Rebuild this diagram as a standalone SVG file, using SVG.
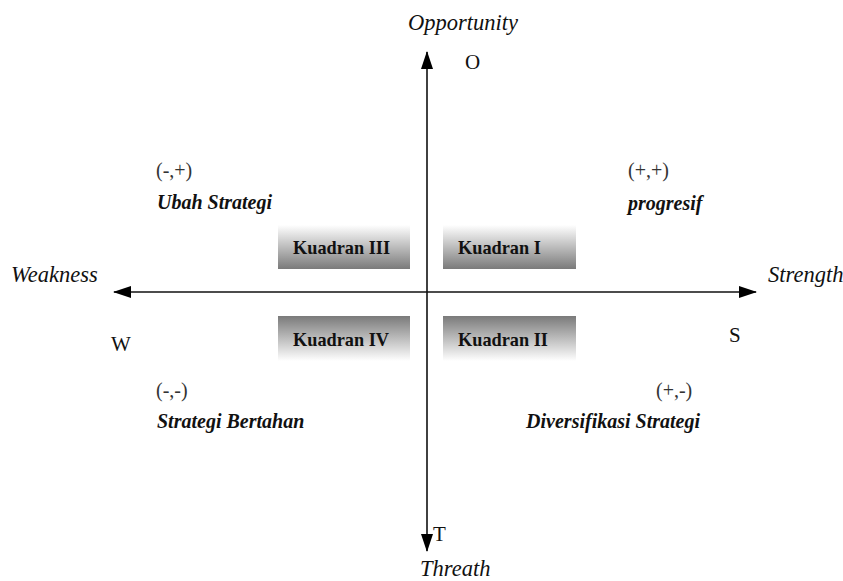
<svg xmlns="http://www.w3.org/2000/svg" width="843" height="581" viewBox="0 0 843 581">
<defs>
<linearGradient id="gDown" x1="0" y1="0" x2="0" y2="1">
<stop offset="0" stop-color="#ffffff"/>
<stop offset="1" stop-color="#7a7a7a"/>
</linearGradient>
<linearGradient id="gUp" x1="0" y1="0" x2="0" y2="1">
<stop offset="0" stop-color="#7a7a7a"/>
<stop offset="1" stop-color="#ffffff"/>
</linearGradient>
<marker id="ah" viewBox="0 0 18 12" refX="17" refY="6" markerWidth="18" markerHeight="12" markerUnits="userSpaceOnUse" orient="auto">
<path d="M0,0 L18,6 L0,12 Z" fill="#000"/>
</marker>
</defs>
<style>
text{font-family:"Liberation Serif","Times New Roman",serif;fill:#111}
.ax{font-style:italic;font-size:22.5px}
.let{font-size:21px}
.sign{font-size:20px;fill:#333}
.strat{font-style:italic;font-weight:bold;font-size:20px}
.kq{font-weight:bold;font-size:18.3px}
.axis{stroke:#111;stroke-width:1.6;fill:none}
</style>
<rect width="843" height="581" fill="#fff"/>
<g id="connectors">
<line class="axis" x1="427" y1="292" x2="427" y2="52" marker-end="url(#ah)"/>
<line class="axis" x1="427" y1="292" x2="427" y2="551" marker-end="url(#ah)"/>
<line class="axis" x1="427" y1="292" x2="114" y2="292" marker-end="url(#ah)"/>
<line class="axis" x1="427" y1="292" x2="756" y2="292" marker-end="url(#ah)"/>
</g>
<g id="axis-labels">
<text class="ax" x="463" y="30" text-anchor="middle">Opportunity</text>
<text class="let" x="465" y="69">O</text>
<text class="ax" x="11" y="282">Weakness</text>
<text class="ax" x="768" y="282">Strength</text>
<text class="let" x="111" y="351">W</text>
<text class="let" x="729" y="342">S</text>
<text class="let" x="433" y="541">T</text>
<text class="ax" x="420" y="576">Threath</text>
</g>
<g id="kuadran-3">
<rect x="278" y="225" width="132" height="44" fill="url(#gDown)"/>
<text class="kq" x="293" y="254">Kuadran III</text>
</g>
<g id="kuadran-1">
<rect x="443" y="225" width="133" height="44" fill="url(#gDown)"/>
<text class="kq" x="458" y="254">Kuadran I</text>
</g>
<g id="kuadran-4">
<rect x="278" y="316" width="132" height="45" fill="url(#gUp)"/>
<text class="kq" x="293" y="346">Kuadran IV</text>
</g>
<g id="kuadran-2">
<rect x="443" y="316" width="133" height="45" fill="url(#gUp)"/>
<text class="kq" x="458" y="346">Kuadran II</text>
</g>
<g id="ubah-strategi">
<text class="sign" x="156" y="177">(-,+)</text>
<text class="strat" x="157" y="209">Ubah Strategi</text>
</g>
<g id="progresif">
<text class="sign" x="628" y="177">(+,+)</text>
<text class="strat" x="628" y="210">progresif</text>
</g>
<g id="strategi-bertahan">
<text class="sign" x="156" y="397">(-,-)</text>
<text class="strat" x="157" y="428">Strategi Bertahan</text>
</g>
<g id="diversifikasi-strategi">
<text class="sign" x="656" y="397">(+,-)</text>
<text class="strat" x="700" y="428" text-anchor="end">Diversifikasi Strategi</text>
</g>
</svg>
